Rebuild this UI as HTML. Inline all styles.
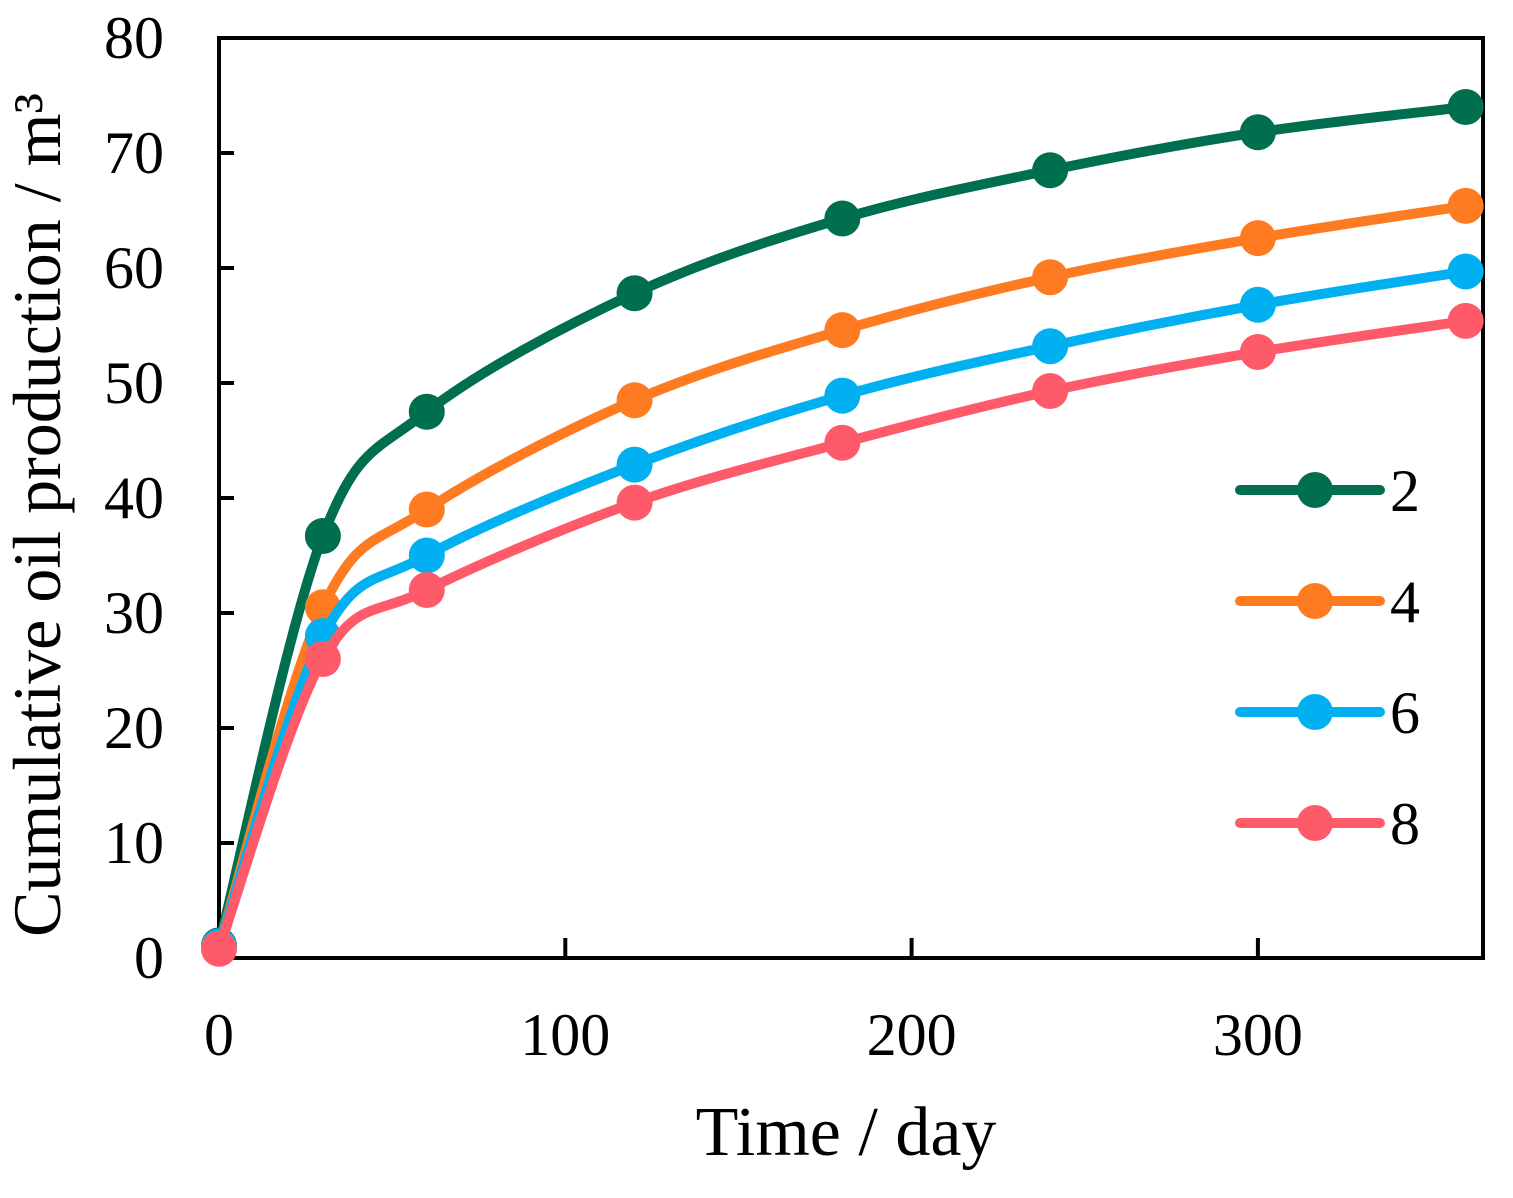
<!DOCTYPE html>
<html><head><meta charset="utf-8"><style>
body{margin:0;background:#fff;width:1513px;height:1193px;overflow:hidden}
text{font-family:"Liberation Serif",serif;fill:#000}
</style></head><body>
<svg id="chart" width="1513" height="1193" viewBox="0 0 1513 1193" xmlns="http://www.w3.org/2000/svg"></svg>
<script>
const days=[0,30,60,120,180,240,300,360];
const seriesNames=['2','4','6','8'];
const s2=[1.1,36.7,47.5,57.8,64.3,68.5,71.8,74.0];
const s4=[1.0,30.5,39.0,48.5,54.6,59.2,62.6,65.4];
const s6=[1.0,28.0,35.0,42.9,48.9,53.2,56.8,59.7];
const s8=[0.8,26.0,32.0,39.6,44.8,49.3,52.7,55.4];
const xTicks=[0,100,200,300];
const yTicks=[0,10,20,30,40,50,60,70,80];
const colors=['#006f4f','#ff7b22','#00b0f0','#ff5a6a'];
const L=219,R=1483,T=38,B=958,XMAX=365,YMAX=80;
const sx=v=>L+(R-L)*v/XMAX, sy=v=>B-(B-T)*v/YMAX;
const svg=document.getElementById('chart');const NS='http://www.w3.org/2000/svg';
function mk(tag,at,parent){const e=document.createElementNS(NS,tag);for(const k in at)e.setAttribute(k,at[k]);(parent||svg).appendChild(e);return e;}
let fr=mk('rect',{x:L,y:T,width:R-L,height:B-T,fill:'none',stroke:'#000','stroke-width':4});


xTicks.forEach(v=>{
 const t=mk('line',{x1:sx(v),x2:sx(v),y1:B,y2:B-20,stroke:'#000','stroke-width':4});
 
 
 const lb=mk('text',{x:sx(v),y:1055,'text-anchor':'middle','font-size':60});lb.textContent=v;
 
 
});
yTicks.forEach(v=>{
 const t=mk('line',{x1:L,x2:L+15,y1:sy(v),y2:sy(v),stroke:'#000','stroke-width':4});
 
 
 const lb=mk('text',{x:164,y:sy(v)+20,'text-anchor':'end','font-size':60});lb.textContent=v;
 
 
});
const xt=mk('text',{x:846,y:1155,'text-anchor':'middle','font-size':70});xt.textContent='Time / day';


const yt=mk('text',{x:0,y:0,'text-anchor':'middle','font-size':68,transform:'translate(60,515) rotate(-90)'});yt.textContent='Cumulative oil production / m³';


function smooth(pts){let d='M'+pts[0][0]+','+pts[0][1];for(let i=0;i<pts.length-1;i++){const p0=pts[Math.max(i-1,0)],p1=pts[i],p2=pts[i+1],p3=pts[Math.min(i+2,pts.length-1)];const k=1/6;d+=' C'+(p1[0]+(p2[0]-p0[0])*k)+','+(p1[1]+(p2[1]-p0[1])*k)+' '+(p2[0]-(p3[0]-p1[0])*k)+','+(p2[1]-(p3[1]-p1[1])*k)+' '+p2[0]+','+p2[1];}return d;}
const all=[s2,s4,s6,s8];
all.forEach((s,i)=>{
 const g=mk('g',{});
 
 
 const pts=days.map((d,j)=>[sx(d),sy(s[j])]);
 const p=mk('path',{d:smooth(pts),fill:'none',stroke:colors[i],'stroke-width':10,'stroke-linecap':'round'},g);
 
 
 pts.forEach(q=>{const c=mk('circle',{cx:q[0],cy:q[1],r:18,fill:colors[i]},g);
  
  });
 const ly=490+i*111;
 const lg=mk('g',{});
 
 
 mk('line',{x1:1240,x2:1380,y1:ly,y2:ly,stroke:colors[i],'stroke-width':10,'stroke-linecap':'round'},lg);
 mk('circle',{cx:1315,cy:ly,r:18,fill:colors[i]},lg);
 const tx=mk('text',{x:1390,y:ly+21,'font-size':60},lg);tx.textContent=seriesNames[i];
});
</script>
</body></html>
